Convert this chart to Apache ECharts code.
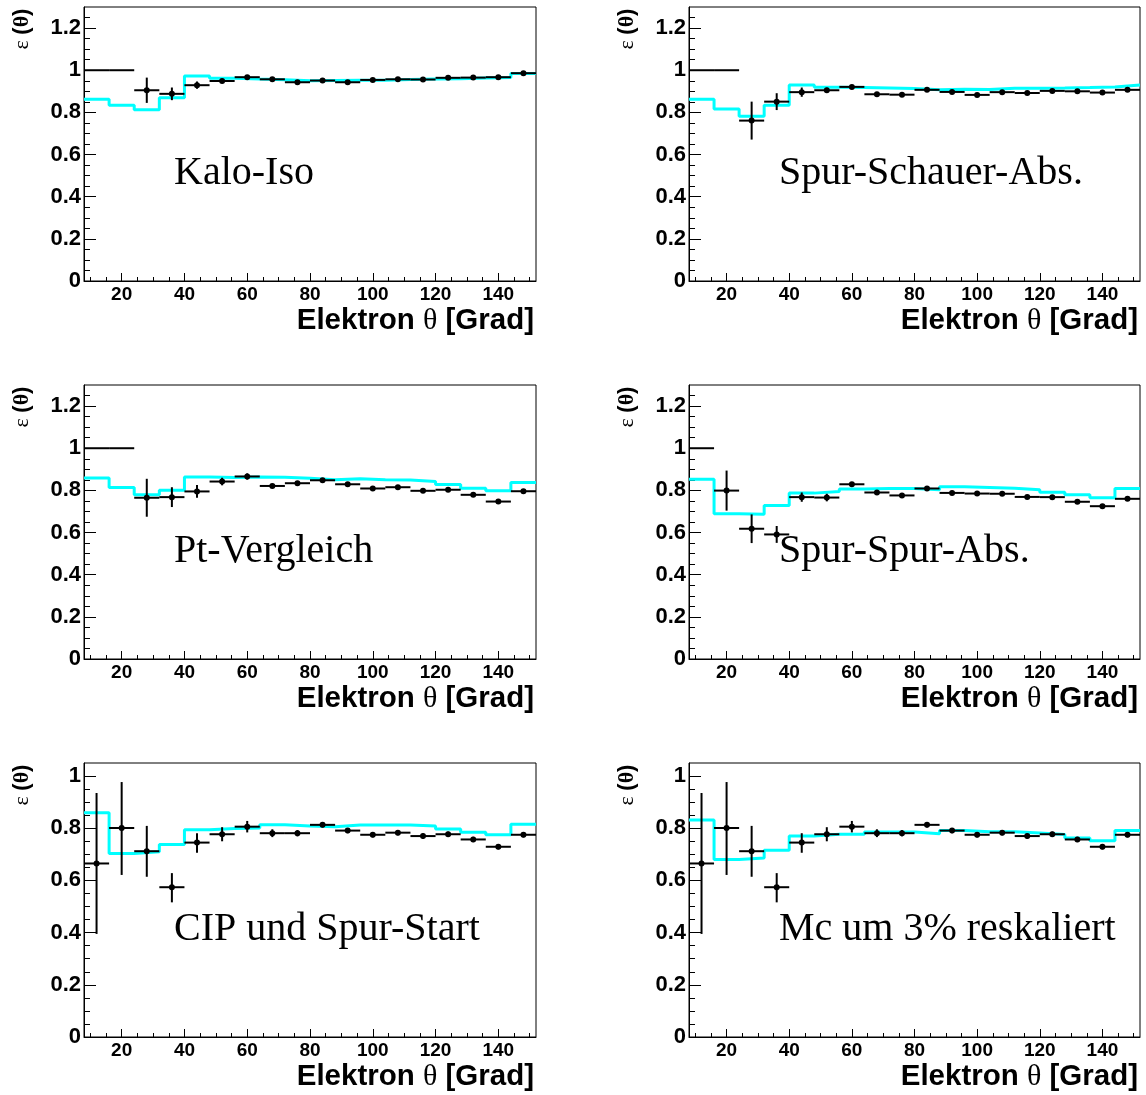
<!DOCTYPE html>
<html>
<head>
<meta charset="utf-8">
<script src="https://cdn.jsdelivr.net/npm/echarts@6/dist/echarts.min.js"></script>
<style>
  html, body { margin: 0; padding: 0; background: #fff; }
  #chart { width: 1146px; height: 1095px; }
</style>
</head>
<body>
<div id="chart"></div>
<script>
// bin centres (Elektron theta, 8 degree bins from 8 to 152)
var binCenters = [12, 20, 28, 36, 44, 52, 60, 68, 76, 84, 92, 100, 108, 116, 124, 132, 140, 148];
var binHalf = 4;

// Kalo-Iso
var kaloData = [1.0, 1.0, 0.905, 0.888, 0.929, 0.949, 0.967, 0.957, 0.943, 0.951, 0.943, 0.954, 0.957, 0.956, 0.964, 0.965, 0.967, 0.986];
var kaloErr  = [0, 0, 0.06, 0.03, 0.017, 0.01, 0.008, 0.008, 0.008, 0.008, 0.008, 0.008, 0.008, 0.008, 0.008, 0.008, 0.008, 0.008];
var kaloMc   = [0.862, 0.834, 0.813, 0.869, 0.973, 0.962, 0.958, 0.955, 0.950, 0.951, 0.952, 0.953, 0.956, 0.958, 0.960, 0.963, 0.966, 0.985];

// Spur-Schauer-Abs.
var schauerData = [1.0, 1.0, 0.761, 0.851, 0.896, 0.905, 0.921, 0.886, 0.884, 0.907, 0.897, 0.883, 0.896, 0.892, 0.902, 0.900, 0.894, 0.907];
var schauerErr  = [0, 0, 0.09, 0.04, 0.022, 0.012, 0.009, 0.008, 0.008, 0.008, 0.008, 0.008, 0.008, 0.008, 0.008, 0.008, 0.008, 0.008];
var schauerMc   = [0.862, 0.816, 0.782, 0.834, 0.930, 0.919, 0.918, 0.916, 0.913, 0.907, 0.910, 0.908, 0.915, 0.915, 0.916, 0.918, 0.921, 0.930];

// Pt-Vergleich
var ptData = [1.0, 1.0, 0.765, 0.768, 0.795, 0.842, 0.866, 0.821, 0.834, 0.848, 0.829, 0.809, 0.815, 0.798, 0.803, 0.779, 0.747, 0.796];
var ptErr  = [0, 0, 0.09, 0.047, 0.03, 0.018, 0.015, 0.01, 0.01, 0.01, 0.01, 0.01, 0.01, 0.01, 0.01, 0.01, 0.01, 0.01];
var ptMc   = [0.859, 0.814, 0.779, 0.801, 0.864, 0.861, 0.863, 0.862, 0.858, 0.850, 0.855, 0.850, 0.849, 0.842, 0.828, 0.810, 0.798, 0.837];

// Spur-Spur-Abs.
var spurData = [1.0, 0.799, 0.618, 0.591, 0.768, 0.766, 0.829, 0.790, 0.776, 0.809, 0.788, 0.785, 0.784, 0.769, 0.768, 0.746, 0.725, 0.760];
var spurErr  = [0, 0.095, 0.068, 0.04, 0.022, 0.018, 0.01, 0.01, 0.01, 0.01, 0.01, 0.01, 0.01, 0.01, 0.01, 0.01, 0.01, 0.01];
var spurMc   = [0.853, 0.689, 0.687, 0.728, 0.787, 0.795, 0.807, 0.809, 0.809, 0.803, 0.817, 0.814, 0.810, 0.803, 0.791, 0.779, 0.765, 0.809];

// CIP und Spur-Start (same data used with rescaled MC)
var cipData  = [0.665, 0.801, 0.712, 0.574, 0.745, 0.777, 0.806, 0.781, 0.781, 0.813, 0.791, 0.775, 0.783, 0.770, 0.777, 0.757, 0.729, 0.775];
var cipErrLo = [0.27, 0.18, 0.098, 0.058, 0.039, 0.027, 0.022, 0.015, 0.012, 0.01, 0.01, 0.01, 0.01, 0.01, 0.01, 0.01, 0.01, 0.01];
var cipErrHi = [0.27, 0.176, 0.097, 0.054, 0.036, 0.027, 0.022, 0.015, 0.012, 0.01, 0.01, 0.01, 0.01, 0.01, 0.01, 0.01, 0.01, 0.01];
var cipMc    = [0.859, 0.703, 0.710, 0.738, 0.794, 0.799, 0.801, 0.813, 0.809, 0.806, 0.812, 0.812, 0.812, 0.809, 0.797, 0.785, 0.775, 0.815];
var rescaledMc = [0.832, 0.680, 0.686, 0.716, 0.770, 0.777, 0.777, 0.786, 0.786, 0.779, 0.791, 0.787, 0.787, 0.782, 0.776, 0.763, 0.752, 0.791];

// ticks
var xMajor = [20, 40, 60, 80, 100, 120, 140];
var xMinor = [10, 15, 25, 30, 35, 45, 50, 55, 65, 70, 75, 85, 90, 95, 105, 110, 115, 125, 130, 135, 145, 150];
var yMajorTall = [0, 0.2, 0.4, 0.6, 0.8, 1, 1.2];
var yMinorTall = [0.05, 0.1, 0.15, 0.25, 0.3, 0.35, 0.45, 0.5, 0.55, 0.65, 0.7, 0.75, 0.85, 0.9, 0.95, 1.05, 1.1, 1.15, 1.25];
var yMajorShort = [0, 0.2, 0.4, 0.6, 0.8, 1];
var yMinorShort = [0.05, 0.1, 0.15, 0.25, 0.3, 0.35, 0.45, 0.5, 0.55, 0.65, 0.7, 0.75, 0.85, 0.9, 0.95];

var panels = [
  {label: 'Kalo-Iso', data: kaloData, errLo: kaloErr, errHi: kaloErr, mc: kaloMc, ymax: 1.3},
  {label: 'Spur-Schauer-Abs.', data: schauerData, errLo: schauerErr, errHi: schauerErr, mc: schauerMc, ymax: 1.3},
  {label: 'Pt-Vergleich', data: ptData, errLo: ptErr, errHi: ptErr, mc: ptMc, ymax: 1.3},
  {label: 'Spur-Spur-Abs.', data: spurData, errLo: spurErr, errHi: spurErr, mc: spurMc, ymax: 1.3},
  {label: 'CIP und Spur-Start', data: cipData, errLo: cipErrLo, errHi: cipErrHi, mc: cipMc, ymax: 1.05},
  {label: 'Mc um 3% reskaliert', data: cipData, errLo: cipErrLo, errHi: cipErrHi, mc: rescaledMc, ymax: 1.05}
];

// frame positions of the 6 pads
var boxes = [
  {left: 84, top: 7}, {left: 689, top: 7},
  {left: 84, top: 385}, {left: 689, top: 385},
  {left: 84, top: 763}, {left: 689, top: 763}
];
var frameW = [452, 451];
var frameH = 274;

var sans = 'Liberation Sans, Arial, sans-serif';
var serif = 'Liberation Serif, Times New Roman, serif';

function renderErr(params, api) {
  var x = api.value(0), y = api.value(1), lo = api.value(2), hi = api.value(3);
  var pL = api.coord([x - binHalf, y]);
  var pR = api.coord([x + binHalf, y]);
  var kids = [{
    type: 'line',
    shape: {x1: pL[0], y1: pL[1], x2: pR[0], y2: pR[1]},
    style: {stroke: '#000', lineWidth: 2}
  }];
  if (lo + hi > 0) {
    var pT = api.coord([x, y + hi]);
    var pB = api.coord([x, y - lo]);
    var c = api.coord([x, y]);
    kids.push({type: 'line', shape: {x1: pT[0], y1: pT[1], x2: pB[0], y2: pB[1]}, style: {stroke: '#000', lineWidth: 2}});
    kids.push({type: 'circle', shape: {cx: c[0], cy: c[1], r: 3}, style: {fill: '#000'}});
  }
  return {type: 'group', children: kids};
}

var grids = [], xAxes = [], yAxes = [], series = [], graphics = [];

for (var i = 0; i < panels.length; i++) {
  var p = panels[i];
  var b = boxes[i];
  var col = i % 2;
  var tall = p.ymax > 1.1;
  grids.push({
    left: b.left, top: b.top, width: frameW[col], height: frameH,
    show: true, borderColor: '#000', borderWidth: 1, backgroundColor: '#fff',
    containLabel: false, outerBoundsMode: 'none'
  });

  // main x axis + minor tick overlay
  xAxes.push({
    gridIndex: i, type: 'value', min: 8, max: 152, position: 'bottom',
    axisLine: {onZero: false, lineStyle: {color: '#000', width: 1}},
    axisTick: {inside: true, length: 8, customValues: xMajor, lineStyle: {color: '#000', width: 1}},
    axisLabel: {customValues: xMajor, fontSize: 19, fontWeight: 'bold', fontFamily: sans, color: '#000', margin: 4},
    splitLine: {show: false}
  });
  xAxes.push({
    gridIndex: i, type: 'value', min: 8, max: 152, position: 'bottom',
    axisLine: {show: false},
    axisTick: {inside: true, length: 4, customValues: xMinor, lineStyle: {color: '#000', width: 1}},
    axisLabel: {show: false},
    splitLine: {show: false}
  });

  yAxes.push({
    gridIndex: i, type: 'value', min: 0, max: p.ymax, position: 'left',
    axisLine: {onZero: false, lineStyle: {color: '#000', width: 1}},
    axisTick: {inside: true, length: 12, customValues: tall ? yMajorTall : yMajorShort, lineStyle: {color: '#000', width: 1}},
    axisLabel: {customValues: tall ? yMajorTall : yMajorShort, fontSize: 22, fontWeight: 'bold', fontFamily: sans, color: '#000', margin: 3},
    splitLine: {show: false}
  });
  yAxes.push({
    gridIndex: i, type: 'value', min: 0, max: p.ymax, position: 'left',
    axisLine: {show: false},
    axisTick: {inside: true, length: 6, customValues: tall ? yMinorTall : yMinorShort, lineStyle: {color: '#000', width: 1}},
    axisLabel: {show: false},
    splitLine: {show: false}
  });

  // MC as step histogram along bin edges
  var mcPts = [];
  for (var k = 0; k < binCenters.length; k++) {
    mcPts.push([binCenters[k] - binHalf, p.mc[k]]);
    mcPts.push([binCenters[k] + binHalf, p.mc[k]]);
  }
  series.push({
    type: 'line', xAxisIndex: 2 * i, yAxisIndex: 2 * i, data: mcPts,
    symbol: 'none', lineStyle: {color: '#00ffff', width: 3}, z: 2, silent: true
  });

  var pts = [];
  for (var k = 0; k < binCenters.length; k++) {
    pts.push([binCenters[k], p.data[k], p.errLo[k], p.errHi[k]]);
  }
  series.push({
    type: 'custom', xAxisIndex: 2 * i, yAxisIndex: 2 * i, data: pts,
    encode: {x: 0, y: 1}, renderItem: renderErr, z: 3, silent: true
  });

  // pad texts
  graphics.push({
    type: 'text', x: b.left + 90, y: b.top + 166,
    style: {text: p.label, font: '40px ' + serif, fill: '#000',
      align: 'left', verticalAlign: 'middle', textAlign: 'left', textVerticalAlign: 'middle'}
  });
  graphics.push({
    type: 'text', x: b.left + frameW[col] - 2, y: b.top + frameH + 40,
    style: {
      text: '{b|Elektron }{t|θ}{b| [Grad]}',
      align: 'right', verticalAlign: 'middle', textAlign: 'right', textVerticalAlign: 'middle',
      rich: {
        b: {fontSize: 29.5, fontWeight: 'bold', fontFamily: sans, fill: '#000'},
        t: {fontSize: 30, fontFamily: serif, fill: '#000'}
      }
    }
  });
  graphics.push({
    type: 'text', x: b.left - 62, y: b.top + 22, rotation: Math.PI / 2,
    style: {
      text: '{e|ε }{b|(}{t|θ}{b|)}',
      align: 'center', verticalAlign: 'middle', textAlign: 'center', textVerticalAlign: 'middle',
      rich: {
        e: {fontSize: 22, fontFamily: serif, fill: '#000'},
        b: {fontSize: 22, fontWeight: 'bold', fontFamily: sans, fill: '#000'},
        t: {fontSize: 22, fontWeight: 'bold', fontFamily: serif, fill: '#000'}
      }
    }
  });
}

var chart = echarts.init(document.getElementById('chart'), null, {renderer: 'canvas'});
chart.setOption({
  animation: false,
  backgroundColor: '#fff',
  grid: grids,
  xAxis: xAxes,
  yAxis: yAxes,
  series: series,
  graphic: graphics
});
</script>
</body>
</html>
